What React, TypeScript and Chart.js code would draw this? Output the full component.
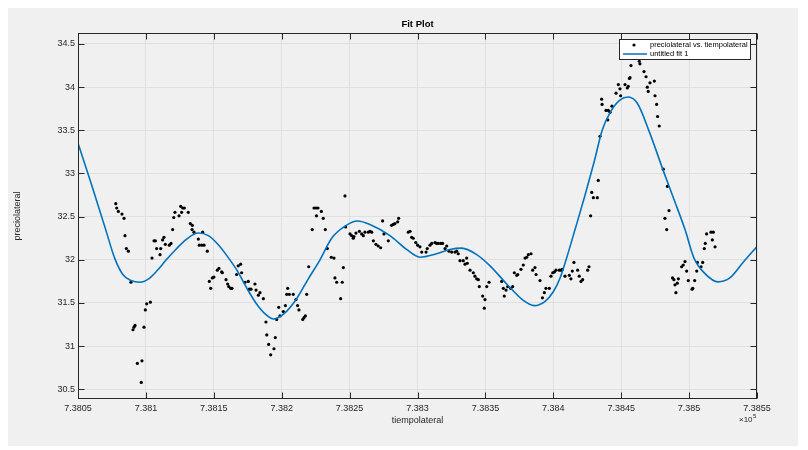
import React, { useEffect, useRef } from 'react';
import { Chart, registerables } from 'chart.js';

Chart.register(...registerables);

// ---------- data ----------
const tiempolateral = [
  738077.8, 738078.5, 738079.7, 738082.4, 738083.9, 738084.6, 738085.6, 738087.1, 738089.0, 738090.5,
  738091.2, 738092.0, 738093.7, 738096.6, 738097.1, 738098.6, 738099.6, 738100.6, 738103.3, 738104.5,
  738106.0, 738107.0, 738107.9, 738110.4, 738110.9, 738112.3, 738113.3, 738114.3, 738117.2, 738118.5,
  738119.7, 738120.5, 738121.4, 738124.4, 738125.6, 738126.3, 738127.1, 738128.3, 738131.2, 738132.7,
  738134.0, 738134.2, 738135.4, 738138.6, 738139.3, 738141.1, 738141.8, 738142.8, 738145.2, 738146.7,
  738147.7, 738148.9, 738150.1, 738152.6, 738153.8, 738155.8, 738156.3, 738159.0, 738160.2, 738161.0,
  738162.4, 738163.4, 738166.8, 738168.0, 738169.8, 738170.5, 738173.0, 738175.4, 738176.1, 738177.4,
  738180.3, 738181.1, 738182.8, 738184.0, 738186.5, 738188.4, 738189.0, 738190.4, 738191.9, 738194.3,
  738195.3, 738196.3, 738197.8, 738198.7, 738201.2, 738202.7, 738203.7, 738204.4, 738205.6, 738208.5,
  738210.5, 738211.7, 738212.7, 738215.5, 738216.4, 738217.4, 738218.4, 738219.9, 738222.5, 738223.8,
  738225.3, 738225.6, 738226.7, 738229.2, 738230.6, 738232.1, 738233.6, 738236.5, 738238.5, 738239.2,
  738240.5, 738243.4, 738244.6, 738245.4, 738246.6, 738247.1, 738250.3, 738251.5, 738252.7, 738253.2,
  738254.7, 738257.2, 738258.9, 738260.1, 738261.3, 738263.8, 738265.0, 738266.3, 738267.5, 738269.4,
  738271.1, 738272.9, 738274.3, 738275.3, 738278.5, 738280.9, 738282.2, 738283.4, 738285.4, 738286.1,
  738293.2, 738294.5, 738295.7, 738296.9, 738298.7, 738300.1, 738301.8, 738303.1, 738306.3, 738307.2,
  738309.2, 738310.5, 738312.9, 738314.1, 738315.3, 738317.1, 738318.5, 738320.3, 738321.5, 738323.2,
  738325.2, 738327.6, 738328.9, 738330.0, 738331.3, 738333.7, 738335.0, 738336.2, 738336.7, 738338.7,
  738341.1, 738342.3, 738343.6, 738344.8, 738345.5, 738348.0, 738349.2, 738349.7, 738351.0, 738352.7,
  738362.0, 738363.2, 738363.9, 738365.2, 738366.4, 738368.6, 738370.1, 738371.3, 738373.1, 738373.8,
  738376.2, 738377.9, 738379.2, 738380.4, 738381.6, 738383.6, 738384.8, 738386.5, 738387.3, 738390.2,
  738392.0, 738393.4, 738394.6, 738397.1, 738398.3, 738399.6, 738400.8, 738402.0, 738404.4, 738405.7,
  738406.6, 738408.6, 738411.8, 738413.0, 738414.0, 738415.2, 738417.9, 738419.1, 738420.4, 738421.6,
  738425.3, 738426.3, 738427.5, 738428.3, 738429.5, 738432.4, 738433.1, 738434.4, 738435.6, 738435.9,
  738438.8, 738440.1, 738440.5, 738441.8, 738443.2, 738446.2, 738447.9, 738449.1, 738449.6, 738452.8,
  738454.5, 738455.2, 738456.0, 738456.5, 738457.2, 738463.3, 738463.8, 738466.8, 738468.3, 738469.2,
  738469.9, 738471.2, 738474.4, 738474.9, 738476.1, 738476.8, 738478.0, 738481.0, 738482.2, 738483.5,
  738484.0, 738485.2, 738487.8, 738488.8, 738489.6, 738490.3, 738491.3, 738492.1, 738494.5, 738495.7,
  738497.0, 738498.2, 738499.4, 738502.2, 738502.7, 738504.1, 738505.6, 738506.1, 738508.8, 738510.0,
  738511.2, 738511.9, 738512.9, 738516.1, 738517.1, 738517.8, 738519.1,
];

const preciolateral = [
  32.65, 32.60, 32.56, 32.53, 32.48, 32.28, 32.13, 32.10, 31.74, 31.19,
  31.22, 31.24, 30.80, 30.58, 30.83, 31.22, 31.42, 31.49, 31.51, 32.02,
  32.22, 32.22, 32.13, 32.06, 32.13, 32.23, 32.26, 32.18, 32.17, 32.19,
  32.35, 32.49, 32.55, 32.51, 32.62, 32.55, 32.60, 32.60, 32.55, 32.42,
  32.35, 32.40, 32.32, 32.24, 32.17, 32.17, 32.32, 32.17, 32.10, 31.75,
  31.67, 31.79, 31.80, 31.88, 31.90, 31.86, 31.85, 31.77, 31.72, 31.69,
  31.67, 31.67, 31.83, 31.93, 31.95, 31.85, 31.74, 31.75, 31.66, 31.66,
  31.72, 31.65, 31.59, 31.62, 31.55, 31.28, 31.13, 31.02, 30.90, 30.97,
  31.10, 31.31, 31.45, 31.35, 31.40, 31.47, 31.60, 31.67, 31.60, 31.60,
  31.54, 31.47, 31.42, 31.31, 31.33, 31.35, 31.60, 31.92, 32.35, 32.60,
  32.60, 32.51, 32.60, 32.56, 32.48, 32.35, 32.13, 32.03, 32.02, 31.79,
  31.74, 31.55, 31.74, 31.91, 32.74, 32.38, 32.30, 32.28, 32.25, 32.27,
  32.31, 32.33, 32.30, 32.28, 32.32, 32.32, 32.33, 32.32, 32.22, 32.18,
  32.16, 32.14, 32.45, 32.30, 32.22, 32.40, 32.41, 32.42, 32.44, 32.48,
  32.32, 32.33, 32.26, 32.25, 32.20, 32.17, 32.15, 32.09, 32.09, 32.13,
  32.17, 32.19, 32.20, 32.19, 32.19, 32.19, 32.19, 32.13, 32.16, 32.10,
  32.09, 32.09, 32.10, 32.07, 31.99, 31.99, 31.95, 32.02, 31.96, 31.88,
  31.85, 31.81, 31.78, 31.77, 31.69, 31.58, 31.44, 31.54, 31.69, 31.74,
  31.75, 31.67, 31.58, 31.65, 31.69, 31.67, 31.69, 31.85, 31.82, 31.83,
  31.89, 31.94, 32.02, 32.03, 32.06, 32.07, 31.88, 31.91, 31.83, 31.76,
  31.56, 31.62, 31.67, 31.67, 31.81, 31.85, 31.86, 31.88, 31.88, 31.88,
  31.89, 31.81, 31.82, 31.78, 31.87, 31.97, 31.88, 31.81, 31.75, 31.77,
  31.88, 31.92, 32.51, 32.78, 32.72, 32.72, 32.92, 33.43, 33.86, 33.80,
  33.73, 33.62, 33.73, 33.71, 33.78, 33.93, 34.03, 33.98, 33.90, 34.03,
  33.99, 34.01, 34.10, 34.11, 34.25, 34.30, 34.27, 34.18, 34.12, 34.00,
  33.95, 34.05, 34.07, 33.90, 33.80, 33.66, 33.55, 33.05, 32.48, 32.35,
  32.85, 32.57, 31.79, 31.77, 31.71, 31.62, 31.73, 31.78, 31.92, 31.94,
  31.98, 31.87, 31.76, 31.66, 31.67, 31.76, 31.87, 31.97, 31.92, 31.97,
  32.13, 32.19, 32.30, 32.32, 32.23, 32.32, 32.15,
];

const fitX = [
  738050, 738060, 738070, 738077, 738083, 738089, 738095.6, 738102, 738108, 738115,
  738122, 738130, 738138.6, 738146, 738153, 738160, 738167, 738174, 738181, 738188,
  738194, 738202, 738211, 738219.6, 738228.2, 738236.8, 738246.6, 738255.8, 738265, 738279.7,
  738292, 738301.8, 738314, 738324, 738332.5, 738343.6, 738353.4, 738365.7, 738377.9, 738386,
  738394, 738400, 738405, 738409.4, 738416, 738423.4, 738430, 738436, 738442, 738449,
  738455.2, 738462, 738471, 738481.5, 738489.6, 738497, 738503.6, 738511.7, 738521.3, 738530,
  738539.7, 738550,
];

const fitY = [
  33.35, 32.87, 32.37, 32.02, 31.83, 31.76, 31.74, 31.78, 31.87, 32.00,
  32.12, 32.24, 32.31, 32.28, 32.18, 32.04, 31.88, 31.68, 31.50, 31.37,
  31.315, 31.38, 31.55, 31.78, 32.00, 32.25, 32.39, 32.45, 32.41, 32.28,
  32.12, 32.03, 32.07, 32.12, 32.135, 32.06, 31.93, 31.72, 31.53, 31.47,
  31.52, 31.63, 31.79, 32.00, 32.35, 32.75, 33.13, 33.50, 33.71, 33.85,
  33.885, 33.81, 33.47, 33.01, 32.67, 32.35, 32.02, 31.84, 31.745, 31.79,
  31.97, 32.155,
];

const xTickValues = [738050, 738100, 738150, 738200, 738250, 738300, 738350, 738400, 738450, 738500, 738550];
const xTickLabels = ['7.3805', '7.381', '7.3815', '7.382', '7.3825', '7.383', '7.3835', '7.384', '7.3845', '7.385', '7.3855'];
const yTickValues = [30.5, 31, 31.5, 32, 32.5, 33, 33.5, 34, 34.5];
const yTickLabels = ['30.5', '31', '31.5', '32', '32.5', '33', '33.5', '34', '34.5'];

const X_MIN = 738050;
const X_MAX = 738550;
const Y_MIN = 30.388;
const Y_MAX = 34.627;

const TITLE = 'Fit Plot';
const X_LABEL = 'tiempolateral';
const Y_LABEL = 'preciolateral';
const X_EXPONENT = '5';
const LEGEND_DATA = 'preciolateral vs. tiempolateral';
const LEGEND_FIT = 'untitled fit 1';

// ---------- styles ----------
const FONT = '"Liberation Sans", Arial, Helvetica, sans-serif';
const AXIS_COLOR = '#262626';
const GRID_COLOR = '#e0e0e0';
const FIT_COLOR = '#0072BD';
const BG = '#f0f0f0';
const W = 790;
const H = 438;

const matlabFrame = {
  id: 'matlabFrame',
  afterDraw(chart: any) {
    const { ctx, chartArea: a, scales } = chart;
    const xs = scales.x;
    const ys = scales.y;
    const L = Math.round(a.left) + 0.5;
    const R = Math.round(a.right) - 0.5;
    const T = Math.round(a.top) + 0.5;
    const B = Math.round(a.bottom) - 0.5;
    const tl = 6;
    ctx.save();

    // box
    ctx.strokeStyle = AXIS_COLOR;
    ctx.lineWidth = 1;
    ctx.strokeRect(L, T, R - L, B - T);

    // tick marks (inward, all four sides)
    ctx.beginPath();
    xTickValues.forEach((v) => {
      const px = Math.round(xs.getPixelForValue(v)) + 0.5;
      ctx.moveTo(px, B);
      ctx.lineTo(px, B - tl);
      ctx.moveTo(px, T);
      ctx.lineTo(px, T + tl);
    });
    yTickValues.forEach((v) => {
      const py = Math.round(ys.getPixelForValue(v)) + 0.5;
      ctx.moveTo(L, py);
      ctx.lineTo(L + tl, py);
      ctx.moveTo(R, py);
      ctx.lineTo(R - tl, py);
    });
    ctx.stroke();

    // title & labels
    const cx = (a.left + a.right) / 2;
    ctx.fillStyle = '#000000';
    ctx.textAlign = 'center';
    ctx.textBaseline = 'middle';
    ctx.font = `bold 9.5px ${FONT}`;
    ctx.fillText(TITLE, cx, 16);

    ctx.fillStyle = AXIS_COLOR;
    ctx.font = `9px ${FONT}`;
    ctx.fillText(X_LABEL, cx, 413);

    ctx.save();
    ctx.translate(10, (a.top + a.bottom) / 2);
    ctx.rotate(-Math.PI / 2);
    ctx.fillText(Y_LABEL, 0, 0);
    ctx.restore();

    // exponent
    ctx.textAlign = 'left';
    ctx.font = `8px ${FONT}`;
    ctx.fillText('\u00d710', 731, 412);
    const w10 = ctx.measureText('\u00d710').width;
    ctx.font = `6px ${FONT}`;
    ctx.fillText(X_EXPONENT, 731 + w10 + 0.5, 408);

    // legend
    const lx = 611.5, ly = 31.5, lw = 131, lh = 20;
    ctx.fillStyle = '#ffffff';
    ctx.fillRect(lx, ly, lw, lh);
    ctx.strokeStyle = AXIS_COLOR;
    ctx.lineWidth = 1;
    ctx.strokeRect(lx, ly, lw, lh);

    ctx.fillStyle = '#000000';
    ctx.beginPath();
    ctx.arc(626, 37, 1.6, 0, Math.PI * 2);
    ctx.fill();

    ctx.strokeStyle = FIT_COLOR;
    ctx.lineWidth = 1.5;
    ctx.beginPath();
    ctx.moveTo(615, 46);
    ctx.lineTo(639, 46);
    ctx.stroke();

    ctx.fillStyle = '#000000';
    ctx.font = `7.5px ${FONT}`;
    ctx.textAlign = 'left';
    ctx.textBaseline = 'middle';
    ctx.fillText(LEGEND_DATA, 642, 37);
    ctx.fillText(LEGEND_FIT, 642, 46);

    ctx.restore();
  },
};

export default function App() {
  const ref = useRef<HTMLCanvasElement | null>(null);

  useEffect(() => {
    if (!ref.current) return;
    const points = tiempolateral.map((x, i) => ({ x, y: preciolateral[i] }));
    const fit = fitX.map((x, i) => ({ x, y: fitY[i] }));

    const chart = new Chart(ref.current, {
      type: 'scatter',
      data: {
        datasets: [
          {
            label: LEGEND_FIT,
            data: fit,
            showLine: true,
            borderColor: FIT_COLOR,
            borderWidth: 1.6,
            pointRadius: 0,
            cubicInterpolationMode: 'monotone',
            order: 0,
          } as any,
          {
            label: LEGEND_DATA,
            data: points,
            pointRadius: 1.6,
            pointBackgroundColor: '#000000',
            pointBorderWidth: 0,
            order: 1,
          } as any,
        ],
      },
      options: {
        animation: false,
        responsive: false,
        maintainAspectRatio: false,
        layout: { padding: { left: 0, right: 41, top: 25, bottom: 0 } },
        plugins: {
          legend: { display: false },
          title: { display: false },
          tooltip: { enabled: false },
        },
        scales: {
          x: {
            type: 'linear',
            min: X_MIN,
            max: X_MAX,
            afterBuildTicks: (s: any) => {
              s.ticks = xTickValues.map((v) => ({ value: v }));
            },
            afterFit: (s: any) => {
              s.height = 47;
            },
            grid: { color: GRID_COLOR, drawTicks: false, lineWidth: 1 },
            border: { display: false },
            ticks: {
              autoSkip: false,
              maxRotation: 0,
              padding: 4,
              color: AXIS_COLOR,
              font: { family: FONT, size: 9 },
              callback: (_v: any, i: number) => xTickLabels[i],
            },
          },
          y: {
            type: 'linear',
            min: Y_MIN,
            max: Y_MAX,
            afterBuildTicks: (s: any) => {
              s.ticks = yTickValues.map((v) => ({ value: v }));
            },
            afterFit: (s: any) => {
              s.width = 70;
            },
            grid: { color: GRID_COLOR, drawTicks: false, lineWidth: 1 },
            border: { display: false },
            ticks: {
              autoSkip: false,
              padding: 3,
              color: AXIS_COLOR,
              font: { family: FONT, size: 9 },
              callback: (_v: any, i: number) => yTickLabels[i],
            },
          },
        },
      } as any,
      plugins: [matlabFrame],
    });

    return () => chart.destroy();
  }, []);

  return (
    <div style={{ width: W, height: H, background: BG }}>
      <canvas ref={ref} width={W} height={H} style={{ display: 'block', width: W, height: H }} />
    </div>
  );
}
